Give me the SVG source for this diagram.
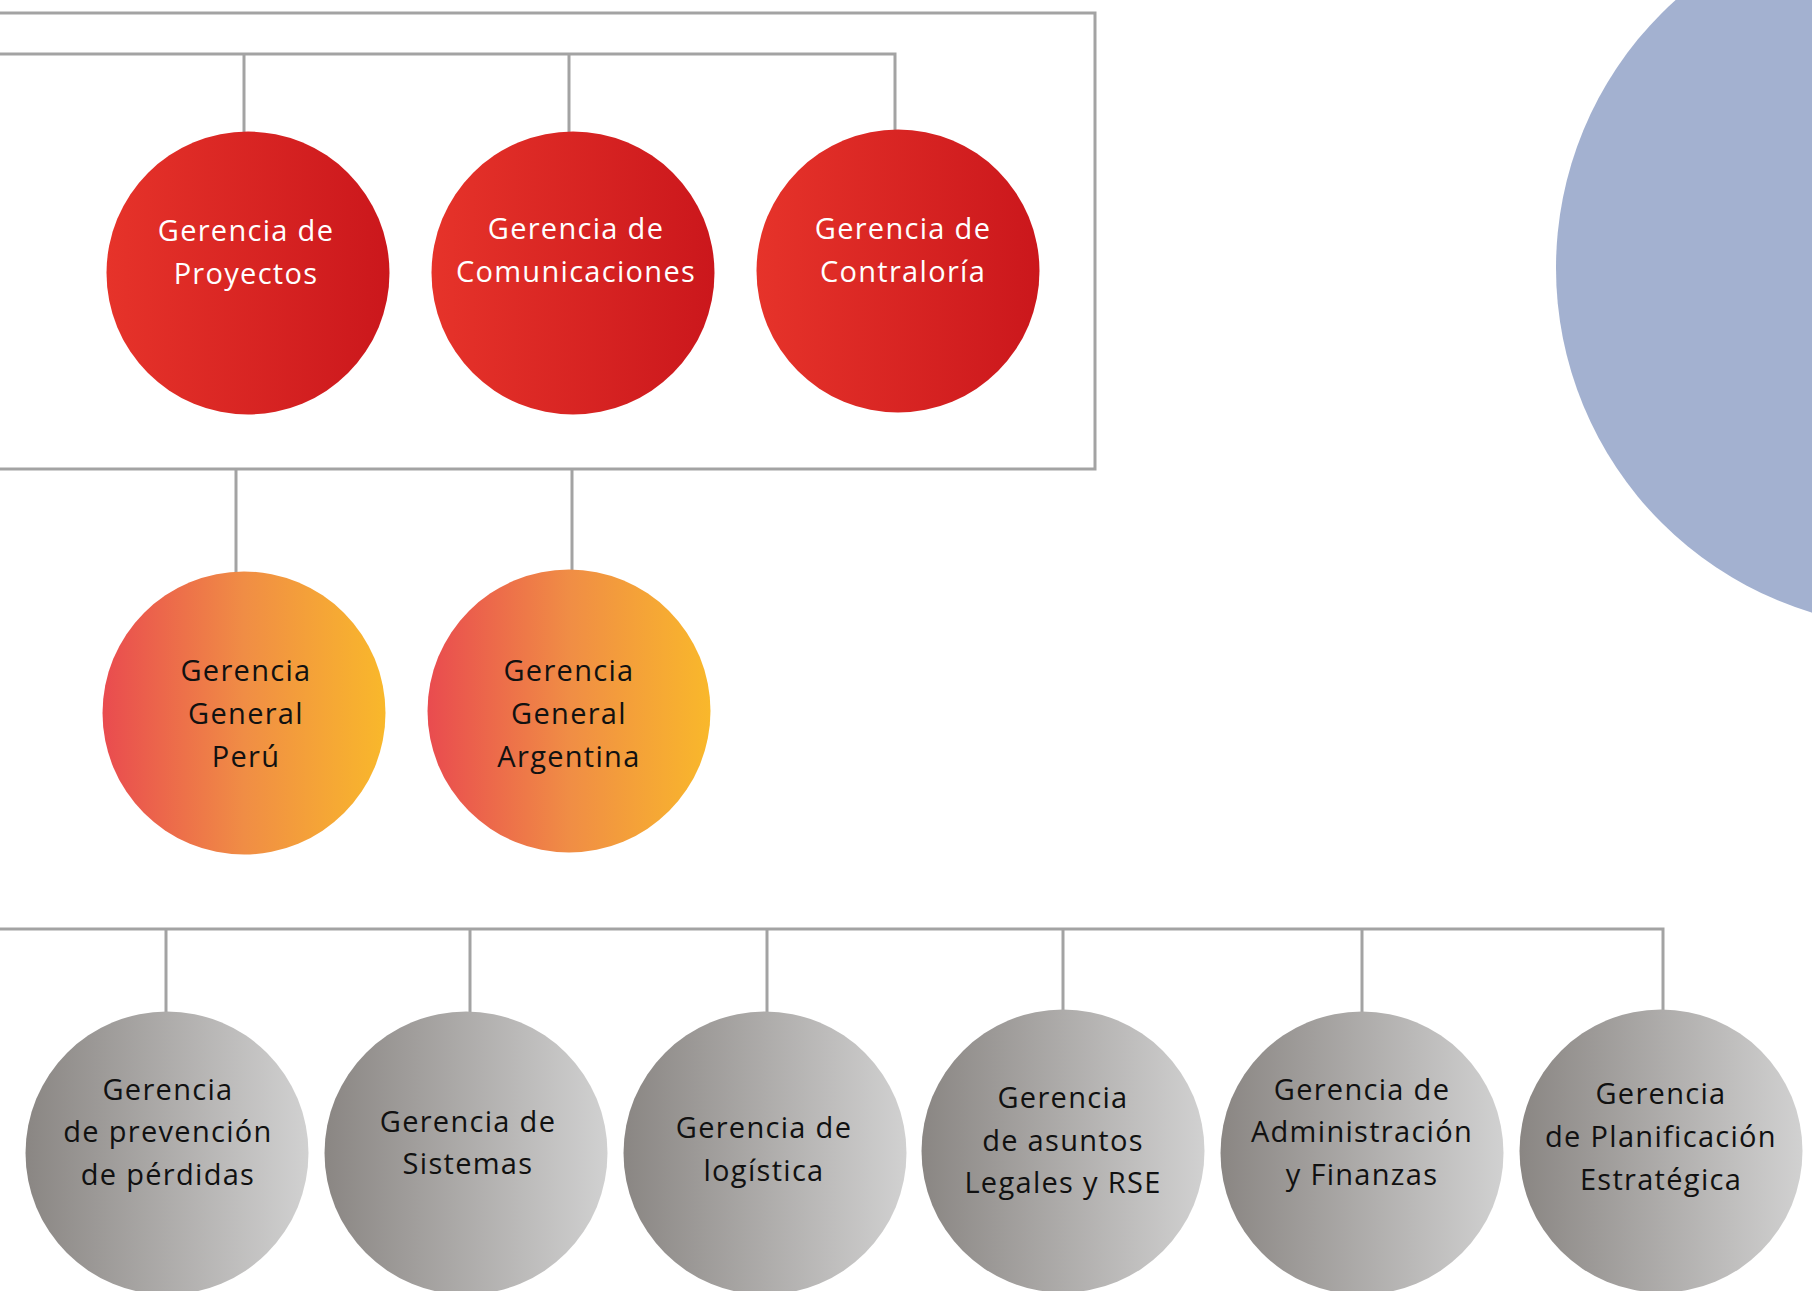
<svg xmlns="http://www.w3.org/2000/svg" width="1812" height="1291" viewBox="0 0 1812 1291">
<defs>
<linearGradient id="gRed" x1="0" y1="0" x2="1" y2="0"><stop offset="0" stop-color="#e6332a"/><stop offset="1" stop-color="#cb171c"/></linearGradient>
<linearGradient id="gOrange" x1="0" y1="0" x2="1" y2="0"><stop offset="0" stop-color="#e94b4f"/><stop offset="0.5" stop-color="#f08d45"/><stop offset="1" stop-color="#f9b82b"/></linearGradient>
<linearGradient id="gGrey" x1="0" y1="0" x2="1" y2="0"><stop offset="0" stop-color="#8a8683"/><stop offset="1" stop-color="#d1d1d1"/></linearGradient>
<style>
.ln{fill:none;stroke:#a3a3a3;stroke-width:3}
.t{font-family:"Open Sans","Noto Sans",sans-serif;font-size:29px;font-weight:500;letter-spacing:1.3px;text-anchor:middle}
.w{fill:#ffffff}
.k{fill:#111111}
</style>
</defs>
<rect width="1812" height="1291" fill="#ffffff"/>
<circle id="decor" cx="1916" cy="268" r="360" fill="#a3b1d0"/>
<g id="connectors">
<polyline class="ln" points="0,13 1095,13 1095,469 0,469"/>
<polyline class="ln" points="0,54 895,54 895,131"/>
<line class="ln" x1="244" y1="54" x2="244" y2="132"/>
<line class="ln" x1="569" y1="54" x2="569" y2="132"/>
<line class="ln" x1="236" y1="469" x2="236" y2="572"/>
<line class="ln" x1="572" y1="469" x2="572" y2="570"/>
<polyline class="ln" points="0,929 1663,929 1663,1011"/>
<line class="ln" x1="166" y1="929" x2="166" y2="1012"/>
<line class="ln" x1="470" y1="929" x2="470" y2="1012"/>
<line class="ln" x1="767" y1="929" x2="767" y2="1012"/>
<line class="ln" x1="1063" y1="929" x2="1063" y2="1010"/>
<line class="ln" x1="1362" y1="929" x2="1362" y2="1012"/>
</g>
<g id="n-proyectos"><circle cx="248" cy="273" r="141.5" fill="url(#gRed)"/><text class="t w" x="246" y="241">Gerencia de</text><text class="t w" x="246" y="284">Proyectos</text></g>
<g id="n-comunicaciones"><circle cx="573" cy="273" r="141.5" fill="url(#gRed)"/><text class="t w" x="576" y="239">Gerencia de</text><text class="t w" x="576" y="282">Comunicaciones</text></g>
<g id="n-contraloria"><circle cx="898" cy="271" r="141.5" fill="url(#gRed)"/><text class="t w" x="903" y="239">Gerencia de</text><text class="t w" x="903" y="282">Contraloría</text></g>
<g id="n-peru"><circle cx="244" cy="713" r="141.5" fill="url(#gOrange)"/><text class="t k" x="246" y="681">Gerencia</text><text class="t k" x="246" y="724">General</text><text class="t k" x="246" y="767">Perú</text></g>
<g id="n-argentina"><circle cx="569" cy="711" r="141.5" fill="url(#gOrange)"/><text class="t k" x="569" y="681">Gerencia</text><text class="t k" x="569" y="724">General</text><text class="t k" x="569" y="767">Argentina</text></g>
<g id="n-perdidas"><circle cx="167" cy="1153" r="141.5" fill="url(#gGrey)"/><text class="t k" x="168" y="1100">Gerencia</text><text class="t k" x="168" y="1142">de prevención</text><text class="t k" x="168" y="1185">de pérdidas</text></g>
<g id="n-sistemas"><circle cx="466" cy="1153" r="141.5" fill="url(#gGrey)"/><text class="t k" x="468" y="1132">Gerencia de</text><text class="t k" x="468" y="1174">Sistemas</text></g>
<g id="n-logistica"><circle cx="765" cy="1153" r="141.5" fill="url(#gGrey)"/><text class="t k" x="764" y="1138">Gerencia de</text><text class="t k" x="764" y="1181">logística</text></g>
<g id="n-legales"><circle cx="1063" cy="1151" r="141.5" fill="url(#gGrey)"/><text class="t k" x="1063" y="1108">Gerencia</text><text class="t k" x="1063" y="1151">de asuntos</text><text class="t k" x="1063" y="1193">Legales y RSE</text></g>
<g id="n-administracion"><circle cx="1362" cy="1153" r="141.5" fill="url(#gGrey)"/><text class="t k" x="1362" y="1100">Gerencia de</text><text class="t k" x="1362" y="1142">Administración</text><text class="t k" x="1362" y="1185">y Finanzas</text></g>
<g id="n-planificacion"><circle cx="1661" cy="1151" r="141.5" fill="url(#gGrey)"/><text class="t k" x="1661" y="1104">Gerencia</text><text class="t k" x="1661" y="1147">de Planificación</text><text class="t k" x="1661" y="1190">Estratégica</text></g>
</svg>
